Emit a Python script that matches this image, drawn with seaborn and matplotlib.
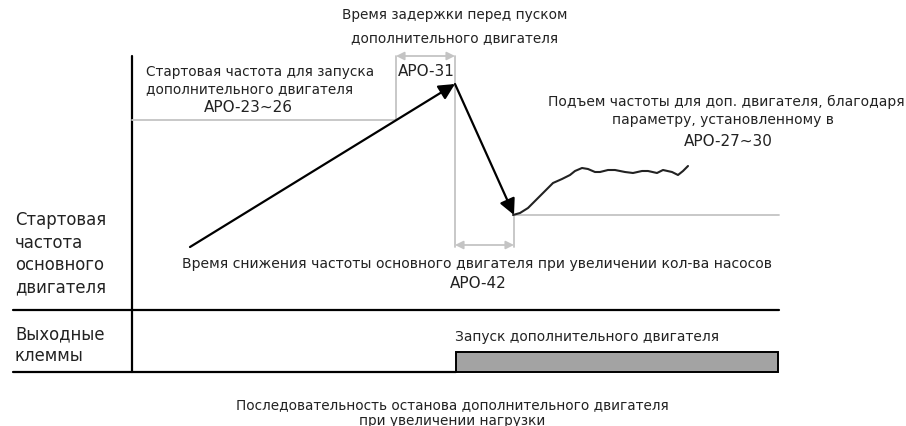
import matplotlib
matplotlib.use("Agg")
import matplotlib.pyplot as plt
import seaborn as sns
import pandas as pd
from matplotlib.patches import Rectangle

# diagram geometry, in picture pixels (x right, y down)
axis_x = 132
axis_top, axis_bottom = 57, 373
row_line_y = 311
left_edge, right_edge = 13, 779

start_aux_y = 121          # APO-23~26 level
delay_start_x = 396        # start of APO-31 delay
peak = (455, 85)
ramp_start = (190, 248)
dip = (514, 216)           # after APO-42

wave_x = [513, 520, 528, 537, 545, 553, 562, 570, 575, 582, 588, 595, 600, 608, 615,
          625, 633, 642, 648, 657, 663, 672, 678, 683, 688]
wave_y = [216, 214, 209, 200, 192, 184, 180, 176, 172, 169, 170, 173, 173, 171, 171,
          173, 174, 172, 172, 174, 171, 173, 176, 172, 167]

bar_x0, bar_x1 = 456, 778
bar_top = 353

GRAY = "#c4c4c4"


def main():
    sns.set_theme(style="white")
    plt.rcParams["font.family"] = ["DejaVu Sans"]

    fig = plt.figure(figsize=(9.06, 4.27), dpi=100)
    ax = fig.add_axes([0, 0, 1, 1])

    # frame lines
    ax.plot([axis_x, axis_x], [axis_top, axis_bottom], color="black", lw=1.6)
    ax.plot([left_edge, right_edge], [row_line_y, row_line_y], color="black", lw=1.6)
    ax.plot([left_edge, bar_x0], [axis_bottom, axis_bottom], color="black", lw=1.6)

    # grey guide lines
    ax.plot([axis_x, delay_start_x], [start_aux_y, start_aux_y], color=GRAY, lw=1.3)
    ax.plot([delay_start_x, delay_start_x], [axis_top, start_aux_y], color=GRAY, lw=1.3)
    ax.plot([peak[0], peak[0]], [axis_top, 248], color=GRAY, lw=1.3)
    ax.plot([dip[0], dip[0]], [dip[1], 248], color=GRAY, lw=1.3)
    ax.plot([dip[0], right_edge], [dip[1], dip[1]], color=GRAY, lw=1.3)

    gray_arrow = dict(arrowstyle="<|-|>", color=GRAY, lw=1.3, mutation_scale=12,
                      shrinkA=0, shrinkB=0)
    ax.annotate("", xy=(delay_start_x, axis_top), xytext=(peak[0], axis_top),
                arrowprops=gray_arrow)
    ax.annotate("", xy=(peak[0], 246), xytext=(dip[0], 246), arrowprops=gray_arrow)

    # main frequency arrows
    black_arrow = dict(arrowstyle="-|>", color="black", lw=1.6, mutation_scale=24,
                       shrinkA=0, shrinkB=0)
    ax.annotate("", xy=peak, xytext=ramp_start, arrowprops=black_arrow)
    ax.annotate("", xy=dip, xytext=peak, arrowprops=black_arrow)

    # frequency rise after aux motor start
    df = pd.DataFrame({"x": wave_x, "y": wave_y})
    sns.lineplot(data=df, x="x", y="y", ax=ax, color="#222222", lw=1.5,
                 solid_joinstyle="round", solid_capstyle="round")

    # output terminal bar
    ax.add_patch(Rectangle((bar_x0, bar_top), bar_x1 - bar_x0, axis_bottom - bar_top,
                           facecolor="#a3a3a3", edgecolor="black", lw=1.4))

    ax.set_xlim(0, 906)
    ax.set_ylim(427, 0)
    ax.axis("off")

    txt = dict(color="#222222", va="center")
    ax.text(455, 15, "Время задержки перед пуском", ha="center", fontsize=9.8, **txt)
    ax.text(455, 38, "дополнительного двигателя", ha="center", fontsize=9.8, **txt)

    ax.text(146, 72, "Стартовая частота для запуска", ha="left", fontsize=9.8, **txt)
    ax.text(146, 89, "дополнительного двигателя", ha="left", fontsize=9.8, **txt)
    ax.text(248, 108, "APO-23~26", ha="center", fontsize=11, **txt)
    ax.text(426, 71, "APO-31", ha="center", fontsize=11, **txt)

    ax.text(905, 102, "Подъем частоты для доп. двигателя, благодаря", ha="right", fontsize=10, **txt)
    ax.text(723, 120, "параметру, установленному в", ha="center", fontsize=10, **txt)
    ax.text(728, 142, "APO-27~30", ha="center", fontsize=11, **txt)

    for y, s in zip([220, 243, 265, 287], ["Стартовая", "частота", "основного", "двигателя"]):
        ax.text(15, y, s, ha="left", fontsize=11.9, **txt)
    ax.text(15, 334, "Выходные", ha="left", fontsize=11.9, **txt)
    ax.text(15, 356, "клеммы", ha="left", fontsize=11.9, **txt)

    ax.text(477, 264, "Время снижения частоты основного двигателя при увеличении кол-ва насосов",
            ha="center", fontsize=10.1, **txt)
    ax.text(478, 284, "APO-42", ha="center", fontsize=11, **txt)

    ax.text(455, 337, "Запуск дополнительного двигателя", ha="left", fontsize=9.9, **txt)

    ax.text(452, 405, "Последовательность останова дополнительного двигателя",
            ha="center", fontsize=9.8, **txt)
    ax.text(452, 421, "при увеличении нагрузки", ha="center", fontsize=9.8, **txt)

    fig.savefig("out.png", dpi=100)


if __name__ == "__main__":
    main()
